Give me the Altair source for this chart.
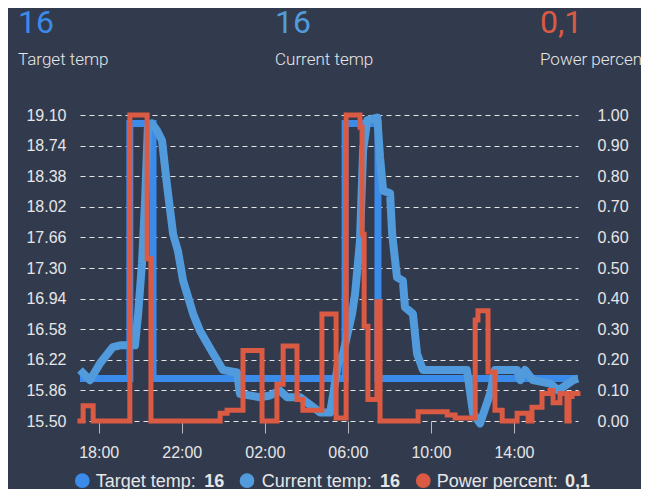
import altair as alt
import pandas as pd

BG = "#323b4e"
BLUE_T = "#3b8beb"
BLUE_C = "#519bdc"
RED = "#db5a43"
TXT = "#e6e6e6"

DAY1 = "2024-01-10"
DAY2 = "2024-01-11"

# ---- data ----
cur_times = ["17:06", "17:35", "18:04", "18:41", "19:02", "19:45", "19:54", "20:05", "20:14", "20:22",
             "20:34", "20:48", "21:03", "21:17", "21:35", "21:49", "22:04", "22:33", "22:53", "23:31",
             "23:59", "00:40", "00:48", "01:46", "02:15", "02:43", "03:04", "03:42", "04:40", "05:09",
             "05:32", "05:46", "06:12", "06:21", "06:35", "06:44", "06:56", "07:25", "07:33", "07:42",
             "08:02", "08:08", "08:22", "08:39", "08:45", "09:08", "09:20", "09:37", "11:44", "12:02",
             "12:22", "12:51", "13:05", "14:09", "14:18", "14:32", "14:55", "15:45", "16:08", "16:51",
             "17:05"]
cur_vals = [16.10, 15.98, 16.18, 16.37, 16.39, 16.39, 16.76, 17.35, 18.09, 18.95,
            19.00, 18.92, 18.80, 18.29, 17.70, 17.50, 17.15, 16.76, 16.56, 16.29,
            16.10, 16.07, 15.82, 15.78, 15.80, 15.86, 15.78, 15.78, 15.60, 15.60,
            16.18, 16.29, 16.76, 17.00, 17.62, 18.68, 19.04, 19.07, 18.60, 18.21,
            18.18, 17.70, 17.19, 17.15, 16.84, 16.76, 16.29, 16.10, 16.10, 15.59,
            15.47, 15.82, 16.10, 16.10, 15.98, 16.10, 15.98, 15.94, 15.86, 15.98,
            16.00]

tgt_times = ["17:06", "19:30", "20:37", "05:52", "07:27", "17:05"]
tgt_vals = [16, 19, 16, 19, 16, 16]

pw_times = ["17:06", "17:15", "17:44", "19:30", "20:20", "20:31", "23:51", "00:11", "00:57", "01:52",
            "02:35", "02:53", "03:33", "03:50", "04:45", "05:26", "05:55", "06:35", "06:41", "06:47",
            "06:58", "07:24", "07:33", "09:23", "10:47", "11:10", "12:08", "12:16", "12:45", "13:05",
            "13:26", "14:09", "14:41", "14:52", "15:21", "15:44", "15:53", "16:13", "16:33", "16:39",
            "16:48", "17:05"]
pw_vals = [0, 0.05, 0, 1.0, 0.53, 0, 0.025, 0.035, 0.23, 0,
           0.12, 0.245, 0.07, 0.035, 0.35, 0.01, 1.0, 0.96, 0.61, 0.31,
           0.07, 0.39, 0, 0.03, 0.02, 0.01, 0.33, 0.36, 0.16, 0.035,
           0, 0.025, 0, 0.045, 0.09, 0.10, 0.06, 0.09, 0, 0.08,
           0.09, 0.09]

left_ticks = [15.50, 15.86, 16.22, 16.58, 16.94, 17.30, 17.66, 18.02, 18.38, 18.74, 19.10]
right_ticks = [0.0, 0.1, 0.2, 0.3, 0.4, 0.5, 0.6, 0.7, 0.8, 0.9, 1.0]
x_tick_hours = [(1, 18), (1, 22), (2, 2), (2, 6), (2, 10), (2, 14)]

header_values = ["16", "16", "0,1"]
series_names = ["Target temp", "Current temp", "Power percent"]
series_colors = [BLUE_T, BLUE_C, RED]


def stamps(times):
    out, day, prev = [], DAY1, None
    for t in times:
        if prev is not None and t < prev:
            day = DAY2
        out.append(f"{day}T{t}:00")
        prev = t
    return out


cur_df = pd.DataFrame({"t": stamps(cur_times), "v": cur_vals})
tgt_df = pd.DataFrame({"t": stamps(tgt_times), "v": tgt_vals})
pw_df = pd.DataFrame({"t": stamps(pw_times), "v": pw_vals})

x_domain = [alt.DateTime(year=2024, month=1, date=10, hours=17, minutes=6),
            alt.DateTime(year=2024, month=1, date=11, hours=17, minutes=5)]
x_values = [alt.DateTime(year=2024, month=1, date=9 + d, hours=h) for d, h in x_tick_hours]

FONT = "Liberation Sans"

x_enc = alt.X("t:T", scale=alt.Scale(domain=x_domain, nice=False),
              axis=alt.Axis(values=x_values, format="%H:%M", title=None, grid=False, domain=False,
                            tickSize=12, tickColor="#b8b8b8", tickWidth=1, labelColor=TXT,
                            labelFont=FONT, labelFontSize=16, labelPadding=11, labelFlush=False))

ydom = alt.Scale(domain=[15.5, 19.1], nice=False, zero=False)

target = alt.Chart(tgt_df).mark_line(interpolate="step-after", color=BLUE_T, strokeWidth=7,
                                     strokeJoin="miter", strokeCap="butt").encode(
    x=x_enc,
    y=alt.Y("v:Q", scale=ydom,
            axis=alt.Axis(orient="left", values=left_ticks, format=".2f", title=None, grid=True,
                          gridDash=[5, 4], gridColor="#e4e4e4", gridWidth=1, gridOpacity=1,
                          domain=False, ticks=False, labelColor=TXT, labelFont=FONT,
                          labelFontSize=16, labelPadding=14)))

current = alt.Chart(cur_df).mark_line(color=BLUE_C, strokeWidth=8, strokeJoin="round").encode(
    x=alt.X("t:T"),
    y=alt.Y("v:Q", scale=ydom, axis=None))

power = alt.Chart(pw_df).mark_line(interpolate="step-after", color=RED, strokeWidth=5,
                                   strokeJoin="miter", strokeCap="square").encode(
    x=alt.X("t:T"),
    y=alt.Y("v:Q", scale=alt.Scale(domain=[0, 1], nice=False),
            axis=alt.Axis(orient="right", values=right_ticks, format=".2f", title=None, grid=False,
                          domain=False, ticks=False, labelColor=TXT, labelFont=FONT,
                          labelFontSize=16, labelPadding=19)))

one = alt.Data(values=[{}])


def txt(text, x, y, size, color, font="Roboto", weight="normal"):
    return alt.Chart(one).mark_text(align="left", baseline="alphabetic", font=font, fontSize=size,
                                    fontWeight=weight, color=color).encode(
        x=alt.value(x), y=alt.value(y), text=alt.value(text))


header_x = [-62, 195, 460]
layers = [target, current, power]
for i in range(3):
    layers.append(txt(header_values[i], header_x[i], -82, 32, series_colors[i]))
    layers.append(txt(series_names[i], header_x[i], -50, 17, TXT, weight=300))

leg_circle_x = [2.3, 167, 343.3]
leg_text_x = [15.7, 181.7, 356.7]
leg_bold_x = [124.3, 300, 485]
for i in range(3):
    layers.append(alt.Chart(one).mark_circle(opacity=1).encode(
        x=alt.value(leg_circle_x[i]), y=alt.value(365.7), size=alt.value(215),
        color=alt.value(series_colors[i])))
    layers.append(txt(series_names[i] + ":", leg_text_x[i], 371.7, 18, TXT, font=FONT))
    layers.append(txt(header_values[i], leg_bold_x[i], 371.7, 18, TXT, font=FONT, weight="bold"))

chart = alt.layer(*layers).resolve_scale(y="independent").properties(
    width=498, height=306,
    padding={"left": 72, "top": 107, "right": 63, "bottom": 68},
    autosize=alt.AutoSizeParams(type="none"),
    background=BG,
).configure_view(stroke=None)

chart.save("out.html", embed_options={"renderer": "svg", "actions": False})
